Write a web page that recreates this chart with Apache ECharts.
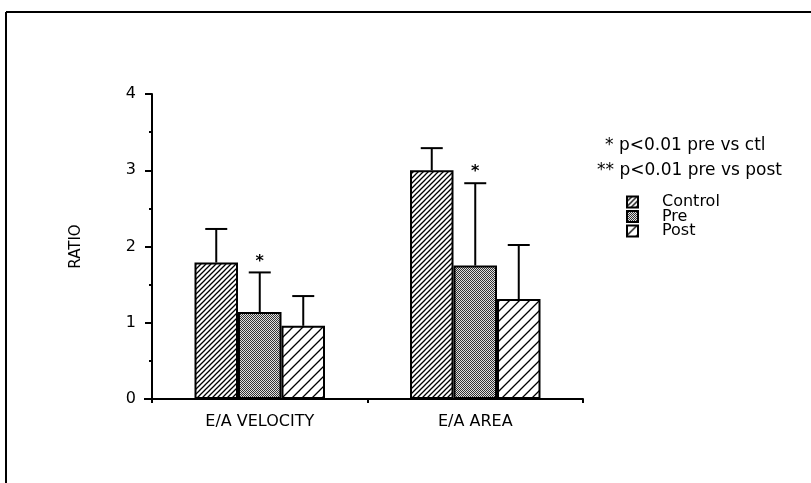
<!DOCTYPE html>
<html><head><meta charset="utf-8">
<script src="https://cdn.jsdelivr.net/npm/echarts@6/dist/echarts.min.js"></script>
<style>html,body{margin:0;padding:0;background:#fff}#c{width:811px;height:483px}</style>
</head><body><div id="c"></div>
<script>
const categories = ['E/A VELOCITY', 'E/A AREA'];
const seriesNames = ['Control', 'Pre', 'Post'];
const controlMean = [1.79, 3.00];
const controlErr = [0.44, 0.29];
const preMean = [1.14, 1.75];
const preErr = [0.52, 1.08];
const postMean = [0.96, 1.31];
const postErr = [0.39, 0.71];
const preMarks = ['*', '*'];
const yTicks = [0, 1, 2, 3, 4];
const notes = ['* p<0.01 pre vs ctl', '** p<0.01 pre vs post'];

const FONT = 'DejaVu Sans';
const barW = 43.5;

function hatch(spacing, lw) {
  const c = document.createElement('canvas');
  c.width = spacing; c.height = spacing;
  const g = c.getContext('2d');
  g.fillStyle = '#fff'; g.fillRect(0, 0, spacing, spacing);
  g.strokeStyle = '#000'; g.lineWidth = lw;
  g.beginPath();
  g.moveTo(-1, spacing + 1); g.lineTo(spacing + 1, -1);
  g.moveTo(-1, 1); g.lineTo(1, -1);
  g.moveTo(spacing - 1, spacing + 1); g.lineTo(spacing + 1, spacing - 1);
  g.stroke();
  return c;
}
function stipple() {
  const c = document.createElement('canvas');
  c.width = 4; c.height = 4;
  const g = c.getContext('2d');
  g.fillStyle = '#e0e0e0'; g.fillRect(0, 0, 4, 4);
  g.fillStyle = '#333';
  for (let y = 0; y < 4; y++) for (let x = 0; x < 4; x++) if ((x + y) % 2 === 0) g.fillRect(x, y, 1, 1);
  return c;
}
const fills = [
  { image: hatch(5, 1.3), repeat: 'repeat' },
  { image: stipple(), repeat: 'repeat' },
  { image: hatch(10, 1.3), repeat: 'repeat' }
];
const means = [controlMean, preMean, postMean];
const errs = [controlErr, preErr, postErr];
const marks = [null, preMarks, null];

const series = [];
seriesNames.forEach((name, i) => {
  series.push({
    name: name, type: 'bar', barWidth: barW, barGap: '0%',
    data: means[i],
    itemStyle: { color: fills[i], borderColor: '#000', borderWidth: 2 },
    silent: true
  });
});
seriesNames.forEach((name, i) => {
  series.push({
    type: 'custom', silent: true, z: 5,
    data: means[i].map((m, k) => [k, m, errs[i][k]]),
    renderItem: function (params, api) {
      const k = api.value(0), m = api.value(1), e = api.value(2);
      const base = api.coord([k, m]);
      const top = api.coord([k, m + e]);
      const x = base[0] + (i - 1) * barW;
      const children = [
        { type: 'line', shape: { x1: x, y1: base[1], x2: x, y2: top[1] }, style: { stroke: '#000', lineWidth: 2 } },
        { type: 'line', shape: { x1: x - 11, y1: top[1], x2: x + 11, y2: top[1] }, style: { stroke: '#000', lineWidth: 2 } }
      ];
      const mk = marks[i] ? marks[i][k] : '';
      if (mk) children.push({ type: 'text', style: { text: mk, x: x, y: top[1] - 3, align: 'center', verticalAlign: 'bottom', font: 'bold 16px ' + FONT, fill: '#000' } });
      return { type: 'group', children: children };
    }
  });
});

const legends = seriesNames.map((n, i) => ({
  data: [n], orient: 'vertical', left: 626, top: 194 + i * 14.5, padding: 0,
  icon: 'rect', itemWidth: 11, itemHeight: 11,
  textStyle: { color: '#000', fontFamily: FONT, fontSize: 16, padding: [0, 0, 0, 19] },
  selectedMode: false
}));

const chart = echarts.init(document.getElementById('c'), null, { renderer: 'canvas' });
chart.setOption({
  animation: false,
  backgroundColor: '#fff',
  grid: { left: 152, right: 228, top: 94, bottom: 84 },
  xAxis: {
    type: 'category', data: categories,
    axisLine: { lineStyle: { color: '#000', width: 2 } },
    axisTick: { show: true, length: 4, lineStyle: { color: '#000', width: 2 } },
    axisLabel: { color: '#000', fontFamily: FONT, fontSize: 16, margin: 15 }
  },
  yAxis: {
    type: 'value', min: yTicks[0], max: yTicks[yTicks.length - 1], interval: 1,
    name: 'RATIO', nameLocation: 'middle', nameGap: 68, nameRotate: 90,
    nameTextStyle: { color: '#000', fontFamily: FONT, fontSize: 15 },
    axisLine: { show: true, lineStyle: { color: '#000', width: 2 } },
    axisTick: { show: true, length: 7, lineStyle: { color: '#000', width: 2 } },
    minorTick: { show: true, splitNumber: 2, length: 3, lineStyle: { color: '#000', width: 2 } },
    splitLine: { show: false },
    axisLabel: { color: '#000', fontFamily: FONT, fontSize: 16, margin: 16 }
  },
  legend: legends,
  graphic: [
    { type: 'line', shape: { x1: 6, y1: 12, x2: 811, y2: 12 }, style: { stroke: '#000', lineWidth: 2 } },
    { type: 'line', shape: { x1: 6, y1: 12, x2: 6, y2: 483 }, style: { stroke: '#000', lineWidth: 2 } },
    { type: 'line', shape: { x1: 144, y1: 399, x2: 152, y2: 399 }, style: { stroke: '#000', lineWidth: 2 } },
    { type: 'text', left: 605, top: 137, style: { text: notes[0], font: '17px ' + FONT, fill: '#000' } },
    { type: 'text', left: 597, top: 162, style: { text: notes[1], font: '17px ' + FONT, fill: '#000' } }
  ],
  series: series
});
</script></body></html>
